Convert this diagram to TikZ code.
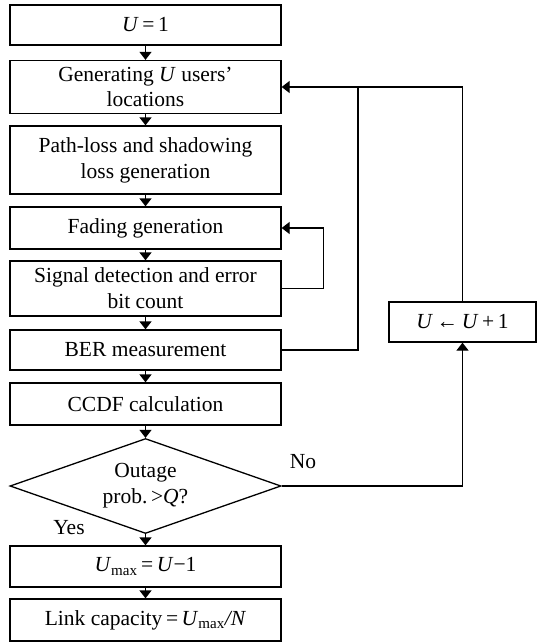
\documentclass[tikz,border=0pt]{standalone}
\usepackage{fontspec}
\setmainfont{Liberation Serif}
\usetikzlibrary{shapes.geometric,arrows.meta}
\begin{document}
\begin{tikzpicture}[x=1pt,y=-1pt,
  box/.style={draw, line width=1.3pt, minimum width=271pt, inner sep=0pt, align=center,
    font=\fontsize{21.5}{25.8}\selectfont},
  lbl/.style={inner sep=0pt, font=\fontsize{21.5}{25.8}\selectfont},
  arr/.style={line width=1.3pt, -{Triangle[length=8pt,width=12pt]}},
  ln/.style={line width=1.3pt}]
\useasboundingbox (0,0) rectangle (539,642);
\node[box, minimum height=40pt] (u1) at (145.5,25) {\textit{U}\,=\,1};
\node[box, minimum height=53pt] (gen) at (145.5,87) {Generating \textit{U} users’\\locations};
\node[box, minimum height=68pt] (path) at (145.5,160) {Path-loss and shadowing\\loss generation};
\node[box, minimum height=42pt] (fad) at (145.5,228) {Fading generation};
\node[box, minimum height=55pt] (sig) at (145.5,288.5) {Signal detection and error\\bit count};
\node[box, minimum height=40pt] (ber) at (145.5,350) {BER measurement};
\node[box, minimum height=42pt] (ccdf) at (145.5,404) {CCDF calculation};
\node[diamond, draw, line width=1.3pt, minimum width=271pt, minimum height=95pt, shape aspect=2.85,
  inner sep=0pt, align=center, font=\fontsize{21.5}{25.8}\selectfont] (dia) at (145.5,486)
  {Outage\\prob.\,>\textit{Q}?};
\node[box, minimum height=41pt] (umax) at (145.5,566.5) {\textit{U}\textsubscript{max}\,=\,\textit{U}−1};
\node[box, minimum height=42pt] (link) at (145.5,620) {Link capacity\,=\,\textit{U}\textsubscript{max}\textit{/N}};
\node[box, minimum width=147pt, minimum height=40pt] (uinc) at (462.5,322) {\textit{U}\,←\,\textit{U}\,+\,1};
\node[lbl] (no) at (303,462) {No};
\node[lbl] (yes) at (69,528) {Yes};
\coordinate (j) at (358,87);
\draw[arr] (u1) -- (gen);
\draw[arr] (gen) -- (path);
\draw[arr] (path) -- (fad);
\draw[arr] (fad) -- (sig);
\draw[arr] (sig) -- (ber);
\draw[arr] (ber) -- (ccdf);
\draw[arr] (ccdf) -- (dia);
\draw[arr] (dia) -- (umax);
\draw[arr] (umax) -- (link);
\draw[arr] (sig.east) -- ++(42,0) |- (fad.east);
\draw[ln] (ber.east) -| (j);
\draw[arr] (uinc.north) |- (gen.east);
\draw[arr] (dia.east) -| (uinc.south);
\end{tikzpicture}
\end{document}
